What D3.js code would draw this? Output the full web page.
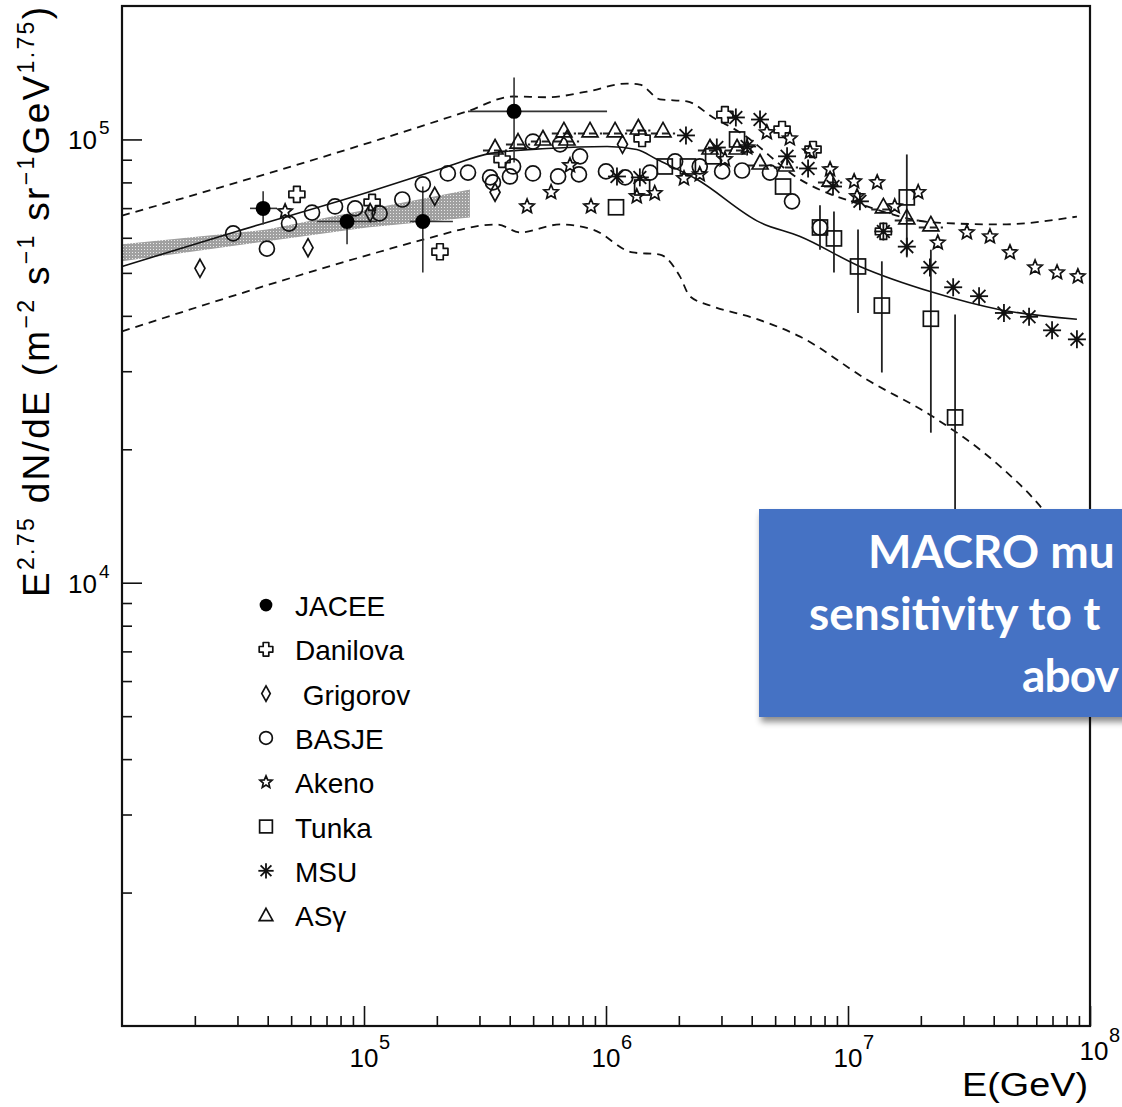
<!DOCTYPE html>
<html><head><meta charset="utf-8">
<script src="https://cdn.jsdelivr.net/npm/d3@7"></script>
<style>html,body{margin:0;padding:0;background:#fff;overflow:hidden}</style>
</head><body><svg id="c" width="1122" height="1107"></svg>
<script>
// ---------------- DATA ----------------
const xMajorTicks = [1e5, 1e6, 1e7, 1e8];
const xTickExponents = ["5", "6", "7", "8"];
const yMajorTicks = [1e4, 1e5];
const yTickExponents = ["4", "5"];

const legendNames = ["JACEE", "Danilova", " Grigorov", "BASJE", "Akeno", "Tunka", "MSU", "ASγ"];
const legendKinds = ["jacee", "danilova", "grigorov", "basje", "akeno", "tunka", "msu", "asg"];

// JACEE (filled circles with error bars)
const jaceeE    = [3.83e4, 8.51e4, 1.75e5, 4.17e5];
const jaceeF    = [6.99e4, 6.53e4, 6.53e4, 1.157e5];
const jaceeFLo  = [6.43e4, 5.80e4, 5.01e4, 8.87e4];
const jaceeFHi  = [7.64e4, 6.53e4, 7.83e4, 1.38e5];
const jaceeELo  = [3.38e4, 6.40e4, 1.55e5, 2.69e5];
const jaceeEHi  = [4.37e4, 1.13e5, 2.33e5, 1.01e6];

const danilovaE = [5.28e4, 1.08e5, 2.06e5, 3.72e5, 1.41e6, 3.10e6, 5.34e6, 7.17e6, 1.40e7];
const danilovaF = [7.52e4, 7.21e4, 5.58e4, 9.02e4, 1.005e5, 1.138e5, 1.053e5, 9.49e4, 6.20e4];

const grigorovE = [2.10e4, 5.87e4, 1.06e5, 1.96e5, 3.48e5, 1.17e6];
const grigorovF = [5.12e4, 5.70e4, 6.84e4, 7.44e4, 7.60e4, 9.75e4];

const basjeE = [2.88e4, 3.97e4, 4.90e4, 6.10e4, 7.59e4, 9.19e4, 1.16e5, 1.44e5, 1.75e5, 2.22e5, 2.69e5, 3.32e5, 3.41e5,
                4.01e5, 4.13e5, 4.99e5, 4.99e5, 6.34e5, 6.46e5, 7.81e5, 7.73e5, 1.00e6, 1.20e6, 1.52e6, 1.93e6, 2.44e6,
                3.02e6, 3.65e6, 4.76e6, 5.87e6, 7.66e6];
const basjeF = [6.14e4, 5.67e4, 6.46e4, 6.84e4, 7.06e4, 6.99e4, 6.81e4, 7.32e4, 7.92e4, 8.38e4, 8.42e4, 8.21e4, 8.00e4,
                8.25e4, 8.69e4, 8.38e4, 9.89e4, 8.25e4, 9.75e4, 9.16e4, 8.34e4, 8.47e4, 8.21e4, 8.42e4, 8.92e4, 8.69e4,
                8.47e4, 8.51e4, 8.42e4, 7.25e4, 6.33e4];

const akenoE = [4.72e4, 4.72e5, 5.93e5, 7.10e5, 8.67e5, 1.34e6, 1.59e6, 2.10e6, 2.44e6, 3.10e6, 3.83e6, 4.62e6, 5.75e6,
                6.97e6, 8.43e6, 1.06e7, 1.09e7, 1.32e7, 1.56e7, 1.95e7, 2.35e7, 3.10e7, 3.86e7, 4.67e7, 5.93e7, 7.31e7, 8.91e7];
const akenoF = [6.88e4, 7.06e4, 7.60e4, 8.74e4, 7.06e4, 7.44e4, 7.56e4, 8.17e4, 8.34e4, 9.02e4, 9.59e4, 1.037e5, 1.005e5,
                9.39e4, 8.56e4, 8.04e4, 7.44e4, 8.00e4, 7.06e4, 7.60e4, 5.85e4, 6.17e4, 6.04e4, 5.56e4, 5.14e4, 5.01e4, 4.91e4];

const tunkaE   = [1.10e6, 1.41e6, 1.75e6, 2.18e6, 2.77e6, 3.48e6, 5.39e6, 7.66e6, 8.75e6, 1.10e7, 1.38e7, 1.75e7, 2.20e7, 2.77e7];
const tunkaF   = [7.03e4, 7.79e4, 8.69e4, 8.69e4, 9.16e4, 1.00e5, 7.83e4, 6.33e4, 5.98e4, 5.17e4, 4.22e4, 7.40e4, 3.94e4, 2.36e4];
const tunkaFLo = [null, null, null, null, null, null, null, 5.64e4, 5.01e4, 4.06e4, 2.98e4, 5.42e4, 2.18e4, 9.16e3];
const tunkaFHi = [null, null, null, null, null, null, null, 7.10e4, 6.88e4, 6.26e4, 5.31e4, 9.25e4, 5.64e4, 4.03e4];

const msuE = [1.11e6, 1.38e6, 2.14e6, 2.87e6, 3.44e6, 3.83e6, 4.33e6, 5.60e6, 6.84e6, 8.67e6, 1.12e7, 1.40e7, 1.75e7,
              2.18e7, 2.72e7, 3.48e7, 4.41e7, 5.60e7, 6.97e7, 8.83e7];
const msuF = [8.25e4, 8.21e4, 1.021e5, 9.59e4, 1.121e5, 9.64e4, 1.109e5, 9.16e4, 8.60e4, 7.83e4, 7.25e4, 6.20e4, 5.73e4,
              5.14e4, 4.64e4, 4.43e4, 4.06e4, 3.98e4, 3.71e4, 3.54e4];

const asgE = [3.48e5, 4.33e5, 5.49e5, 6.70e5, 6.90e5, 8.59e5, 1.09e6, 1.36e6, 1.72e6, 2.69e6, 3.48e6, 4.33e6, 5.54e6,
              8.43e6, 1.40e7, 1.75e7, 2.20e7];
const asgF = [9.59e4, 9.89e4, 1.005e5, 1.048e5, 1.005e5, 1.048e5, 1.048e5, 1.064e5, 1.048e5, 9.59e4, 9.59e4, 8.87e4, 8.78e4,
              8.12e4, 7.06e4, 6.67e4, 6.43e4];
const asgBinHalfWidthDex = 0.05;

// model (solid) and its band (dashed)
const modelE = [1e4, 2.88e4, 1.03e5, 2.22e5, 3.32e5, 5.70e5, 1.01e6, 1.34e6, 1.62e6, 2.38e6, 4.33e6, 6.34e6, 1.12e7, 2.24e7, 4.25e7, 8.83e7];
const modelF = [5.17e4, 6.17e4, 7.59e4, 8.69e4, 9.30e4, 9.54e4, 9.64e4, 9.49e4, 9.02e4, 8.12e4, 6.50e4, 6.04e4, 5.17e4, 4.52e4, 4.13e4, 3.93e4];

const upperE = [1e4, 1.16e5, 2.67e5, 4.13e5, 5.70e5, 8.35e5, 1.22e6, 1.38e6, 1.67e6, 2.16e6, 2.77e6, 3.58e6, 6.34e6,
                1.20e7, 2.24e7, 4.25e7, 8.83e7];
const upperF = [6.73e4, 1.0e5, 1.157e5, 1.25e5, 1.245e5, 1.282e5, 1.337e5, 1.33e5, 1.232e5, 1.219e5, 1.121e5, 1.037e5, 8.12e4,
                7.06e4, 6.50e4, 6.43e4, 6.70e4];

const lowerE = [1e4, 1.16e5, 1.75e5, 3.55e5, 4.41e5, 6.46e5, 8.84e5, 1.29e6, 1.67e6, 2.02e6, 2.22e6, 2.77e6, 4.05e6,
                6.34e6, 1.20e7, 2.24e7, 4.25e7, 6.21e7, 9.52e7];
const lowerF = [3.69e4, 5.58e4, 5.94e4, 6.43e4, 6.17e4, 6.43e4, 6.26e4, 5.56e4, 5.50e4, 4.91e4, 4.43e4, 4.20e4, 3.96e4,
                3.59e4, 2.87e4, 2.37e4, 1.83e4, 1.49e4, 1.07e4];

// grey shaded band (direct measurements)
const bandE  = [1e4, 3.97e4, 1.03e5, 2.74e5];
const bandLo = [5.31e4, 5.89e4, 6.33e4, 6.67e4];
const bandHi = [5.80e4, 6.26e4, 6.95e4, 7.71e4];

const boxLines = ["MACRO mu", "sensitivity to t", "abov"];

// ---------------- CHART ----------------
const svg = d3.select("#c");
const x = d3.scaleLog().domain([1e4, 1e8]).range([122, 1090]);
const y = d3.scaleLog().domain([1e3, 2e5]).range([1026, 6]);

const defs = svg.append("defs");
const pat = defs.append("pattern").attr("id", "hatch").attr("patternUnits", "userSpaceOnUse")
  .attr("width", 3).attr("height", 3);
pat.append("rect").attr("width", 3).attr("height", 3).attr("fill", "#959595");
pat.append("rect").attr("width", 1).attr("height", 1).attr("fill", "#e6e6e6");
const filt = defs.append("filter").attr("id", "shadow").attr("x", "-10%").attr("y", "-10%").attr("width", "130%").attr("height", "140%");
filt.append("feDropShadow").attr("dx", 2).attr("dy", 5).attr("stdDeviation", 3).attr("flood-color", "#000").attr("flood-opacity", 0.45);

const plot = svg.append("g");

// band
const bandData = bandE.map((e, i) => ({e, lo: bandLo[i], hi: bandHi[i]}));
plot.append("path").datum(bandData)
  .attr("d", d3.area().x(d => x(d.e)).y0(d => y(d.lo)).y1(d => y(d.hi)))
  .attr("fill", "url(#hatch)").attr("opacity", 0.9);

// lines
const lineGen = d3.line().x(d => x(d[0])).y(d => y(d[1])).curve(d3.curveMonotoneX);
plot.append("path").datum(modelE.map((e, i) => [e, modelF[i]])).attr("d", lineGen)
  .attr("fill", "none").attr("stroke", "#111").attr("stroke-width", 1.6);
[[upperE, upperF], [lowerE, lowerF]].forEach(([E, F]) => {
  plot.append("path").datum(E.map((e, i) => [e, F[i]])).attr("d", lineGen)
    .attr("fill", "none").attr("stroke", "#111").attr("stroke-width", 1.8).attr("stroke-dasharray", "8,6");
});

// error bars
function seg(x1, y1, x2, y2, w, col, dash) {
  const l = plot.append("line").attr("x1", x1).attr("y1", y1).attr("x2", x2).attr("y2", y2)
    .attr("stroke", col || "#111").attr("stroke-width", w || 1.6);
  if (dash) l.attr("stroke-dasharray", dash);
}
jaceeE.forEach((e, i) => {
  seg(x(e), y(jaceeFLo[i]), x(e), y(jaceeFHi[i]), 1.6, "#333");
  seg(x(jaceeELo[i]), y(jaceeF[i]), x(jaceeEHi[i]), y(jaceeF[i]), 1.6, "#333");
});
tunkaE.forEach((e, i) => {
  if (tunkaFLo[i] != null) seg(x(e), y(tunkaFLo[i]), x(e), y(tunkaFHi[i]), 1.8, "#222");
});
asgE.forEach((e, i) => {
  seg(x(e / Math.pow(10, asgBinHalfWidthDex)), y(asgF[i]) + 3, x(e * Math.pow(10, asgBinHalfWidthDex)), y(asgF[i]) + 3, 2, "#222", "7,4");
});

// marker drawing
function star(ro, ri) {
  let p = [];
  for (let k = 0; k < 10; k++) {
    const r = k % 2 ? ri : ro, a = -Math.PI / 2 + k * Math.PI / 5;
    p.push([r * Math.cos(a), r * Math.sin(a)]);
  }
  return "M" + p.map(q => q[0].toFixed(2) + "," + q[1].toFixed(2)).join("L") + "Z";
}
function drawMarker(g, kind, s) {
  s = s || 1;
  const sw = 1.7;
  if (kind === "jacee") g.append("circle").attr("r", 7.5 * s).attr("fill", "#000");
  else if (kind === "basje") g.append("circle").attr("r", 7.5 * s).attr("fill", "none").attr("stroke", "#111").attr("stroke-width", sw);
  else if (kind === "tunka") g.append("rect").attr("x", -7.5 * s).attr("y", -7.5 * s).attr("width", 15 * s).attr("height", 15 * s)
      .attr("fill", "none").attr("stroke", "#111").attr("stroke-width", sw);
  else if (kind === "grigorov") g.append("path").attr("d", `M0,${-9*s}L${5*s},0L0,${9*s}L${-5*s},0Z`)
      .attr("fill", "none").attr("stroke", "#111").attr("stroke-width", sw);
  else if (kind === "asg") g.append("path").attr("d", `M0,${-8*s}L${8*s},${6.5*s}L${-8*s},${6.5*s}Z`)
      .attr("fill", "none").attr("stroke", "#111").attr("stroke-width", sw);
  else if (kind === "akeno") g.append("path").attr("d", star(7.5 * s, 3.4 * s))
      .attr("fill", "none").attr("stroke", "#111").attr("stroke-width", sw).attr("stroke-linejoin", "miter");
  else if (kind === "danilova") {
    const a = 3.3 * s, h = 8 * s;
    const pts = [[-a,-h],[a,-h],[a,-a],[h,-a],[h,a],[a,a],[a,h],[-a,h],[-a,a],[-h,a],[-h,-a],[-a,-a]];
    g.append("path").attr("d", "M" + pts.map(p => p.join(",")).join("L") + "Z")
      .attr("fill", "none").attr("stroke", "#111").attr("stroke-width", sw).attr("stroke-linejoin", "round");
  } else if (kind === "msu") {
    const r = 9 * s;
    [0, 45, 90, 135].forEach(aDeg => {
      const a = aDeg * Math.PI / 180;
      g.append("line").attr("x1", -r * Math.cos(a)).attr("y1", -r * Math.sin(a)).attr("x2", r * Math.cos(a)).attr("y2", r * Math.sin(a))
        .attr("stroke", "#111").attr("stroke-width", 1.8);
    });
    g.append("circle").attr("r", 2.5 * s).attr("fill", "#111");
  }
}
function series(kind, E, F) {
  E.forEach((e, i) => {
    const g = plot.append("g").attr("transform", `translate(${x(e)},${y(F[i])})`);
    drawMarker(g, kind);
  });
}
series("basje", basjeE, basjeF);
series("grigorov", grigorovE, grigorovF);
series("akeno", akenoE, akenoF);
series("asg", asgE, asgF);
series("tunka", tunkaE, tunkaF);
series("danilova", danilovaE, danilovaF);
series("msu", msuE, msuF);
series("jacee", jaceeE, jaceeF);

// frame
svg.append("rect").attr("x", 122).attr("y", 6).attr("width", 1090 - 122).attr("height", 1026 - 6)
  .attr("fill", "none").attr("stroke", "#111").attr("stroke-width", 2.2);

// axes (ticks inward)
const xMinor = [], yMinor = [];
for (let d = 1e4; d < 1e8; d *= 10) for (let k = 2; k <= 9; k++) xMinor.push(d * k);
for (let d = 1e3; d < 2e5; d *= 10) for (let k = 2; k <= 9; k++) if (d * k < 2e5) yMinor.push(d * k);
function styleAxis(g) { g.select(".domain").remove(); g.selectAll("line").attr("stroke", "#111").attr("stroke-width", 1.6); g.selectAll("text").remove(); }
svg.append("g").attr("transform", "translate(0,1026)").call(d3.axisBottom(x).tickValues(xMinor).tickSize(-10).tickFormat("")).call(styleAxis);
svg.append("g").attr("transform", "translate(0,1026)").call(d3.axisBottom(x).tickValues(xMajorTicks).tickSize(-20).tickFormat("")).call(styleAxis);
svg.append("g").attr("transform", "translate(122,0)").call(d3.axisLeft(y).tickValues(yMinor).tickSize(-10).tickFormat("")).call(styleAxis);
svg.append("g").attr("transform", "translate(122,0)").call(d3.axisLeft(y).tickValues(yMajorTicks).tickSize(-20).tickFormat("")).call(styleAxis);

const font = "'Liberation Sans', Arial, sans-serif";
xMajorTicks.forEach((t, i) => {
  const last = i === xMajorTicks.length - 1;
  const cx = x(t) + (last ? 4 : 0), by = last ? 1060 : 1067;
  svg.append("text").attr("x", cx).attr("y", by).attr("text-anchor", "middle").attr("font-family", font).attr("font-size", 26).text("10");
  svg.append("text").attr("x", cx + 15).attr("y", by - 18).attr("font-family", font).attr("font-size", 20).text(xTickExponents[i]);
});
yMajorTicks.forEach((t, i) => {
  svg.append("text").attr("x", 97).attr("y", y(t) + 10).attr("text-anchor", "end").attr("font-family", font).attr("font-size", 26).text("10");
  svg.append("text").attr("x", 99).attr("y", y(t) - 5).attr("font-family", font).attr("font-size", 19).text(yTickExponents[i]);
});

// axis titles
svg.append("text").attr("x", 1088).attr("y", 1096).attr("text-anchor", "end").attr("font-family", font)
  .attr("font-size", 34).attr("textLength", 126).attr("lengthAdjust", "spacingAndGlyphs").text("E(GeV)");

const yt = svg.append("text").attr("transform", "translate(49,597) rotate(-90)").attr("font-family", font).attr("font-size", 37)
  .attr("textLength", 590).attr("lengthAdjust", "spacing");
const parts = [["E", 0], ["2.75", 1], [" dN/dE (m", 0], ["−2", 1], [" s", 0], ["−1", 1], [" sr", 0], ["−1", 1], ["GeV", 0], ["1.75", 1], [")", 0]];
parts.forEach(([t, sup], i) => {
  const prevSup = i > 0 ? parts[i - 1][1] : 0;
  const ts = yt.append("tspan").text(t).attr("dy", sup && !prevSup ? -15 : (!sup && prevSup ? 15 : 0));
  if (sup) ts.attr("font-size", 23);
});

// legend
const legY0 = 605, legDy = 44.3;
legendNames.forEach((n, i) => {
  const g = svg.append("g").attr("transform", `translate(266,${legY0 + i * legDy})`);
  drawMarker(g, legendKinds[i], 0.85);
  svg.append("text").attr("x", 295).attr("y", legY0 + i * legDy + 11).attr("font-family", font).attr("font-size", 28)
    .style("white-space", "pre").text(n);
});

// overlay box
svg.append("rect").attr("x", 759).attr("y", 509).attr("width", 420).attr("height", 208).attr("fill", "#4472C4").attr("filter", "url(#shadow)");
const bx = [868, 809, 1022], by = [568, 630, 692];
boxLines.forEach((t, i) => {
  svg.append("text").attr("x", bx[i]).attr("y", by[i]).attr("fill", "#fff").attr("font-family", "Lato, 'Open Sans', sans-serif")
    .attr("font-weight", "bold").attr("font-size", 46).attr("letter-spacing", i === 2 ? -0.8 : 0).text(t);
});
</script></body></html>
